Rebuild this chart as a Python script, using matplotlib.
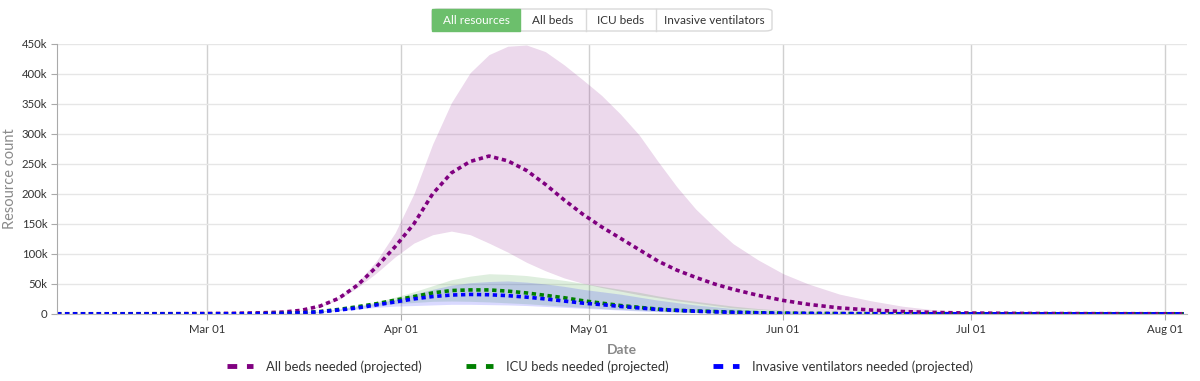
import numpy as np
import pandas as pd
import matplotlib
matplotlib.use('Agg')
import matplotlib.pyplot as plt
import matplotlib.dates as mdates
from matplotlib.patches import FancyBboxPatch, Rectangle
from matplotlib.lines import Line2D

plt.rcParams['font.family'] = ['Lato', 'DejaVu Sans']

# Dates of the read-off points (2020)
dates = pd.to_datetime([
    '2020-02-06', '2020-02-15', '2020-02-25', '2020-03-05', '2020-03-10',
    '2020-03-13', '2020-03-16', '2020-03-19', '2020-03-22', '2020-03-25',
    '2020-03-28', '2020-03-31', '2020-04-03', '2020-04-06', '2020-04-09',
    '2020-04-12', '2020-04-15', '2020-04-18', '2020-04-21', '2020-04-24',
    '2020-04-27', '2020-04-30', '2020-05-03', '2020-05-06', '2020-05-09',
    '2020-05-12', '2020-05-15', '2020-05-18', '2020-05-21', '2020-05-24',
    '2020-05-28', '2020-06-01', '2020-06-05', '2020-06-10', '2020-06-15',
    '2020-06-20', '2020-06-25', '2020-07-01', '2020-07-10', '2020-07-20',
    '2020-08-04'])

# values in thousands
beds_mean = [0.3, 0.3, 0.5, 1, 2, 3, 6, 13, 26, 48, 78, 112, 150, 200, 235,
             254, 263, 255, 239, 216, 190, 166, 145, 126, 107, 88, 73, 61,
             50, 41, 31, 22.5, 16, 10, 6.5, 4, 2.5, 1.5, 0.8, 0.5, 0.3]
beds_upper = [0.3, 0.3, 0.5, 1, 2, 3.2, 6.5, 14, 28, 52, 88, 135, 200, 283,
              352, 402, 432, 446, 448, 437, 415, 390, 364, 333, 298, 254, 212,
              175, 145, 117, 90, 67, 50, 33, 22, 13, 7, 3, 1, 0.6, 0.3]
beds_lower = [0.3, 0.3, 0.5, 1, 2, 2.8, 5.5, 12, 24, 44, 68, 95, 118, 132,
              138, 132, 118, 103, 86, 72, 60, 51, 44, 38, 32, 27, 22, 18, 14,
              10, 7.5, 5, 3.5, 2.5, 1.5, 1, 0.7, 0.5, 0.3, 0.2, 0.2]

icu_mean = [0.1, 0.1, 0.1, 0.2, 0.5, 1, 2, 4, 7.5, 12, 17, 23, 29, 35, 39,
            40, 40, 38, 35, 31, 27, 22, 18, 14, 11, 8, 6, 5, 4, 3, 2, 1.3,
            0.9, 0.6, 0.4, 0.3, 0.2, 0.1, 0.1, 0.1, 0.1]
icu_upper = [0.1, 0.1, 0.1, 0.2, 0.6, 1.2, 2.4, 4.8, 8.5, 14, 20, 28, 37, 47,
             57, 63, 67, 66, 64, 60, 56, 51, 46, 41, 36, 30, 25, 21, 17, 13,
             9, 6, 4, 2.5, 1.5, 1, 0.6, 0.3, 0.2, 0.1, 0.1]
icu_lower = [0.1, 0.1, 0.1, 0.2, 0.4, 0.8, 1.6, 3.3, 6.5, 10, 14, 17, 19, 21,
             21.5, 21, 20, 18.5, 17, 15, 13, 11, 9, 7.5, 6, 4.5, 3.5, 2.6,
             2, 1.5, 1, 0.7, 0.5, 0.3, 0.2, 0.1, 0.1, 0.1, 0.1, 0.1, 0.1]

vent_mean = [0.1, 0.1, 0.1, 0.2, 0.4, 0.9, 1.8, 3.5, 6.5, 10, 15, 20, 25, 29,
             31.5, 32.5, 32, 30.5, 28, 25, 21.5, 18, 15.5, 12.5, 10, 7.5, 6,
             4.5, 3.5, 2.5, 1.7, 1.1, 0.8, 0.5, 0.3, 0.2, 0.1, 0.1, 0.1, 0.1,
             0.1]
vent_upper = [0.1, 0.1, 0.1, 0.2, 0.5, 1, 2, 4, 7.5, 12, 18, 24, 33, 41, 48,
              52, 54, 55, 53, 50, 46, 41, 37, 33, 28, 23, 19, 15, 12, 9, 6,
              4, 2.8, 1.8, 1.1, 0.7, 0.4, 0.2, 0.1, 0.1, 0.1]
vent_lower = [0.1, 0.1, 0.1, 0.2, 0.3, 0.7, 1.5, 3, 5.5, 8, 11, 13, 14, 15,
              16, 16, 15.5, 15, 14, 12.5, 11, 9.5, 8, 6.5, 5, 3.8, 2.8, 2,
              1.5, 1, 0.7, 0.5, 0.3, 0.2, 0.1, 0.1, 0.1, 0.1, 0.1, 0.1, 0.1]

legend_labels = ['All beds needed (projected)', 'ICU beds needed (projected)',
                 'Invasive ventilators needed (projected)']
buttons = ['All resources', 'All beds', 'ICU beds', 'Invasive ventilators']

fig = plt.figure(figsize=(12, 3.81), dpi=100)
ax = fig.add_axes([0.0475, 0.176, 0.9417, 0.709])

k = 1000
series = [
    (beds_mean, beds_upper, beds_lower, '#800080', (0.5, 0.0, 0.5, 0.15)),
    (icu_mean, icu_upper, icu_lower, '#008000', (0.0, 0.5, 0.0, 0.13)),
    (vent_mean, vent_upper, vent_lower, '#0000ff', (0.0, 0.0, 1.0, 0.15)),
]
for mean, up, lo, col, fill in series:
    ax.fill_between(dates, np.array(lo) * k, np.array(up) * k,
                    color=fill, linewidth=0)
for mean, up, lo, col, fill in series:
    ax.plot(dates, np.array(mean) * k, color=col, linewidth=2.6,
            linestyle=(0, (1.2, 1.0)))

ax.set_xlim(pd.Timestamp('2020-02-06'), pd.Timestamp('2020-08-04 12:00'))
ax.set_ylim(0, 450000)
ax.set_yticks(np.arange(0, 450001, 50000))
ax.yaxis.set_major_formatter(
    plt.FuncFormatter(lambda v, p: '0' if v == 0 else f'{int(v / 1000)}k'))
ax.xaxis.set_major_locator(mdates.MonthLocator(bymonthday=1))
ax.xaxis.set_major_formatter(mdates.DateFormatter('%b %d'))

ax.grid(axis='y', color='#e6e6e6', linewidth=1)
ax.grid(axis='x', color='#d0d0d0', linewidth=1)
ax.set_axisbelow(True)
for s in ['top', 'right']:
    ax.spines[s].set_visible(False)
ax.spines['left'].set_color('#aaaaaa')
ax.spines['bottom'].set_color('#bbbbbb')
ax.tick_params(axis='both', labelsize=8.2, colors='#333333', length=4,
               width=0.8, pad=3)
ax.tick_params(axis='both', color='#aaaaaa')
ax.set_xlabel('Date', color='#888888', fontsize=10, fontweight='bold')
ax.set_ylabel('Resource count', color='#8a8a8a', fontsize=10.5)
ax.xaxis.set_label_coords(0.5, -0.11)
ax.yaxis.set_label_coords(-0.035, 0.5)

# legend
handles = [Line2D([0], [0], color=c, linewidth=3.5, linestyle=(0, (2, 2)))
           for c in ['#800080', '#008000', '#0000ff']]
fig.legend(handles, legend_labels, loc='center', ncol=3,
           bbox_to_anchor=(0.5, 0.038), frameon=False, fontsize=9.4,
           handlelength=2.0, handletextpad=1.0, columnspacing=3.4,
           labelcolor='#333333')

# buttons on top
W, H = 1200, 381
edges = [432, 520, 586, 656, 772]
fig.add_artist(FancyBboxPatch((432 / W, 1 - 31 / H), 340 / W, 22 / H,
                              boxstyle='round,pad=0,rounding_size=0.006',
                              transform=fig.transFigure, facecolor='white',
                              edgecolor='#d9d9d9', linewidth=1))
for i, name in enumerate(buttons):
    x0, x1 = edges[i], edges[i + 1]
    active = i == 0
    if active:
        fig.add_artist(Rectangle((x0 / W, 1 - 31 / H), (x1 - x0) / W,
                                 22 / H, transform=fig.transFigure,
                                 facecolor='#6cbf6c', edgecolor='#6cbf6c',
                                 linewidth=1))
    elif i > 1:
        fig.add_artist(Line2D([x0 / W, x0 / W], [1 - 31 / H, 1 - 9 / H],
                              transform=fig.transFigure, color='#d9d9d9',
                              linewidth=1))
    fig.text((x0 + x1) / 2 / W, 1 - 20 / H, name, ha='center', va='center',
             fontsize=8.5, color='white' if active else '#333333')

fig.savefig('out.png', dpi=100)
